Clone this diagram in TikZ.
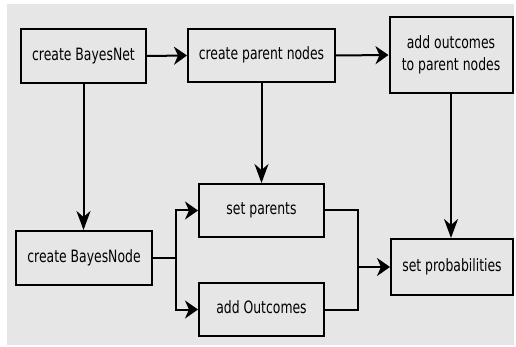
\documentclass[tikz,border=0pt]{standalone}
\usepackage{fontspec}
\usepackage{graphicx}
\newfontfamily\boxfont{DejaVu Sans}
\usetikzlibrary{arrows.meta}
\definecolor{bgc}{HTML}{E6E6E6}
\newcommand{\sqtext}[1]{\scalebox{0.73}[1]{\begin{tabular}{@{}c@{}}#1\end{tabular}}}
\tikzset{
  box/.style={draw=black, line width=2pt, fill=bgc, inner sep=0pt, align=center,
    font=\boxfont\fontsize{17}{21.5}\selectfont},
  conn/.style={line width=2pt},
  harrow/.style={conn, -{Stealth[length=13pt, width=18pt, inset=4pt]}},
  varrow/.style={conn, -{Stealth[length=19pt, width=14pt, inset=6pt]}}
}
\begin{document}
\begin{tikzpicture}[x=1pt, y=-1pt]
\useasboundingbox (0,0) rectangle (516,347);
\fill[white] (0,0) rectangle (516,347);
\fill[bgc] (7,4) rectangle (514,345);
\node[box, minimum width=125pt, minimum height=54pt] (bnet) at (83.5,56) {\sqtext{create BayesNet}};
\node[box, minimum width=147pt, minimum height=53pt] (pnodes) at (261.5,55.5) {\sqtext{create parent nodes}};
\node[box, minimum width=123pt, minimum height=76pt] (addout) at (451,55) {\sqtext{add outcomes\\to parent nodes}};
\node[box, minimum width=136pt, minimum height=54pt] (bnode) at (84,258) {\sqtext{create BayesNode}};
\node[box, minimum width=125pt, minimum height=53pt] (setpar) at (261.5,210.5) {\sqtext{set parents}};
\node[box, minimum width=125pt, minimum height=53pt] (addOut) at (261.5,309.5) {\sqtext{add Outcomes}};
\node[box, minimum width=122pt, minimum height=56pt] (setprob) at (452,267) {\sqtext{set probabilities}};
\coordinate (j1) at (176,258);
\coordinate (j2) at (358,267);
\draw[harrow] (bnet.east) -- (pnodes.west);
\draw[harrow] (pnodes.east) -- (addout.west);
\draw[varrow] (bnet.south) -- (bnet.south |- bnode.north);
\draw[varrow] (pnodes.south) -- (pnodes.south |- setpar.north);
\draw[varrow] (addout.south) -- (addout.south |- setprob.north);
\draw[conn] (bnode.east) -- (j1);
\draw[harrow] (j1) |- (setpar.west);
\draw[harrow] (j1) |- (addOut.west);
\draw[conn] (setpar.east) -| (j2) |- (addOut.east);
\draw[harrow] (j2) -- (j2 -| setprob.west);
\end{tikzpicture}
\end{document}
